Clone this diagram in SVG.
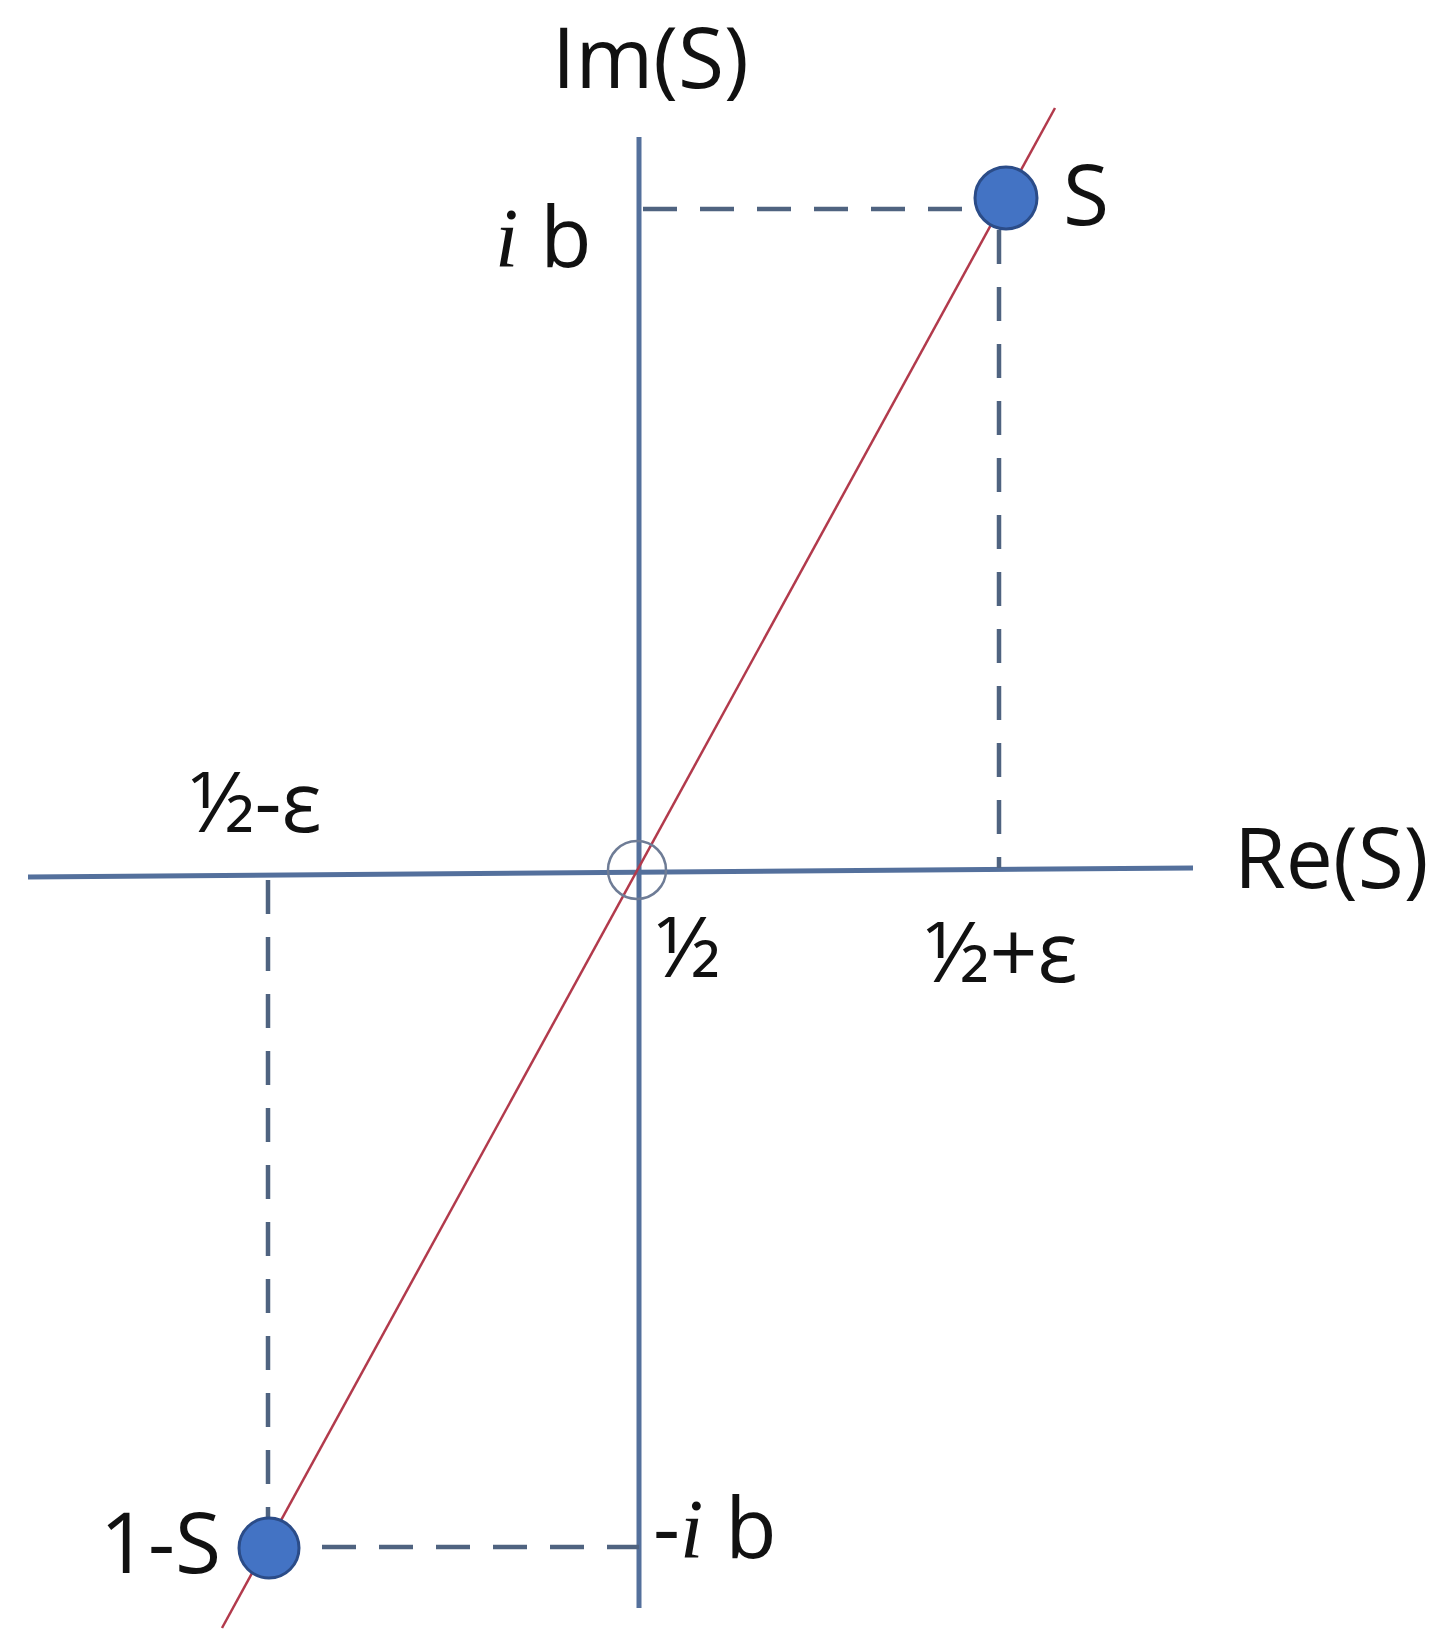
<svg xmlns="http://www.w3.org/2000/svg" width="1452" height="1652" viewBox="0 0 1452 1652">
<style>
.axis{stroke:#54709c;stroke-width:5;fill:none;stroke-linecap:butt}
.dash{stroke:#4f6380;stroke-width:4.5;fill:none;stroke-dasharray:34 23}
.red{stroke:#b23a4c;stroke-width:2.5;fill:none}
.pt{fill:#4373c4;stroke:#2b4c88;stroke-width:3}
.lbl{font-family:"Open Sans","Noto Sans",sans-serif;fill:#111;font-size:84px}
.it{font-family:"Liberation Serif",serif;font-style:italic}
</style>
<rect width="1452" height="1652" fill="#ffffff"/>
<g id="axes">
<line class="axis" x1="28" y1="877" x2="1193" y2="868"/>
<line class="axis" x1="639" y1="137" x2="639" y2="1608"/>
</g>
<g id="connectors">
<line class="dash" x1="643" y1="209" x2="975" y2="209"/>
<line class="dash" x1="999" y1="230" x2="999" y2="868"/>
<line class="dash" x1="268" y1="880" x2="268" y2="1520"/>
<line class="dash" x1="322" y1="1547" x2="639" y2="1547"/>
<line class="red" x1="1055" y1="108" x2="222" y2="1628"/>
</g>
<g id="origin"><circle cx="637" cy="870" r="29" fill="none" stroke="#6e7c96" stroke-width="2.5"/></g>
<g id="node-S"><circle class="pt" cx="1006" cy="198" r="31"/></g>
<g id="node-1-S"><circle class="pt" cx="269" cy="1548" r="30"/></g>
<g id="labels">
<text class="lbl" x="552" y="88" font-size="86">Im(S)</text>
<text class="lbl" x="495" y="267"><tspan class="it">i</tspan> b</text>
<text class="lbl" x="1063" y="225">S</text>
<text class="lbl" x="190" y="832">½-ε</text>
<text class="lbl" x="656" y="977">½</text>
<text class="lbl" x="925" y="982">½+ε</text>
<text class="lbl" x="1234" y="888" font-size="88">Re(S)</text>
<text class="lbl" x="100" y="1573">1-S</text>
<text class="lbl" x="653" y="1558">-<tspan class="it">i</tspan> b</text>
</g>
</svg>
